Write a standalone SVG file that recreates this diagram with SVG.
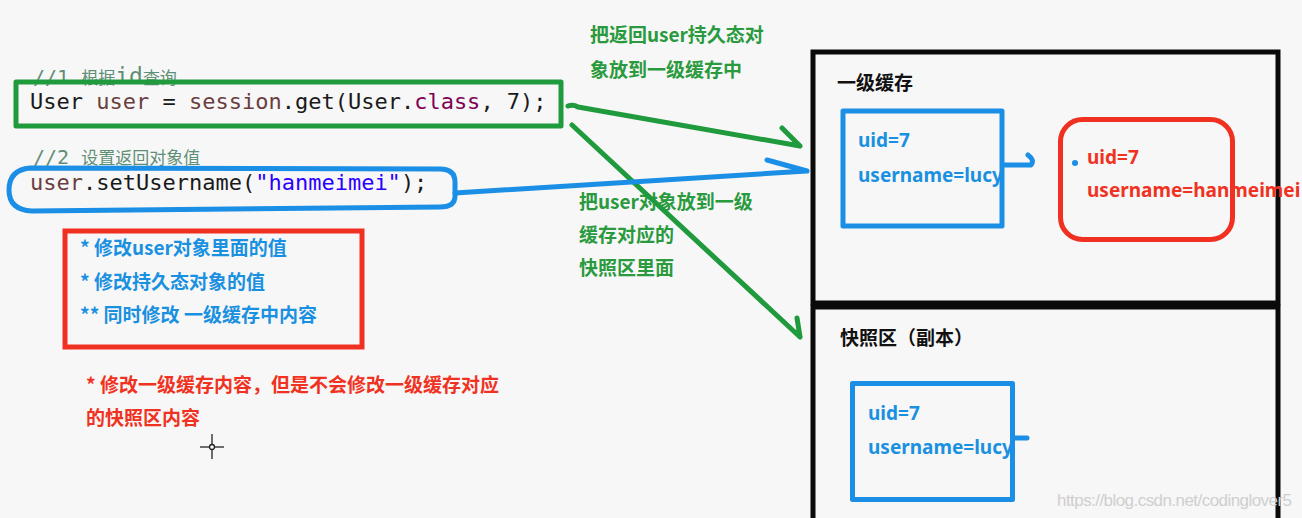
<svg xmlns="http://www.w3.org/2000/svg" width="1302" height="518" viewBox="0 0 1302 518">
<style>
.code{font-family:"DejaVu Sans Mono","Liberation Mono",monospace;font-size:22px;fill:#1a1a1a}
.var{fill:#6a3e3e}
.kw{fill:#7f0055}
.str{fill:#2a00ff}
.cmt{font-family:"DejaVu Sans Mono","Noto Sans CJK SC",monospace;fill:#5f8f76;font-size:20px}
.cmtc{font-family:"Noto Sans CJK SC",sans-serif;font-size:17px}
.cn{font-family:"Noto Sans CJK SC",sans-serif;font-weight:700;font-size:19px}
.lat{font-family:"Noto Sans","Noto Sans CJK SC",sans-serif;font-weight:700;font-size:19px}
.green{fill:#2a9a3e}
.blue{fill:#1a90e0}
.red{fill:#f03222}
.black{fill:#111}
.gline{fill:none;stroke:#1f9a3c;stroke-width:5;stroke-linecap:round;stroke-linejoin:round}
.bline{fill:none;stroke:#1a8fe5;stroke-width:5;stroke-linecap:round;stroke-linejoin:round}
.rline{fill:none;stroke:#f03020;stroke-width:5}
.kline{fill:none;stroke:#0a0a0a;stroke-width:5}
</style>
<rect width="1302" height="518" fill="#f7f7f7"/>

<g id="code1">
<text class="cmt" x="33" y="84">//1 <tspan class="cmtc">根据</tspan><tspan font-size="23">id</tspan><tspan class="cmtc">查询</tspan></text>
<rect x="16" y="82" width="545" height="44" class="gline" stroke-linecap="butt"/>
<text class="code" x="30" y="109" xml:space="preserve">User <tspan class="var">user</tspan> = <tspan class="var">session</tspan>.get(User.<tspan class="kw">class</tspan>, 7);</text>
</g>

<g id="code2">
<text class="cmt" x="33" y="164">//2 <tspan class="cmtc">设置返回对象值</tspan></text>
<path class="bline" d="M30,168 L440,169 Q455,169 455,182 L455,196 Q455,207 440,207 L32,211 Q9,210 9,190 Q9,170 30,168 Z"/>
<text class="code" x="30" y="190"><tspan class="var">user</tspan>.setUsername(<tspan class="str">"hanmeimei"</tspan>);</text>
</g>

<g id="notes">
<rect x="65" y="231" width="297" height="116" class="rline"/>
<text class="cn blue" x="80" y="255">* 修改user对象里面的值</text>
<text class="cn blue" x="80" y="289">* 修改持久态对象的值</text>
<text class="cn blue" x="80" y="322">** 同时修改 一级缓存中内容</text>
<text class="cn red" x="86" y="392">* 修改一级缓存内容，但是不会修改一级缓存对应</text>
<text class="cn red" x="86" y="425">的快照区内容</text>
</g>

<g id="cursor" stroke="#222" stroke-width="1.3" fill="none">
<line x1="200" y1="447" x2="224" y2="447"/>
<line x1="212" y1="434" x2="212" y2="459"/>
<circle cx="212" cy="447" r="2.5" fill="#f7f7f7"/>
</g>

<g id="labels">
<text class="cn green" x="590" y="42">把返回user持久态对</text>
<text class="cn green" x="590" y="77">象放到一级缓存中</text>
<text class="cn green" x="579" y="209">把user对象放到一级</text>
<text class="cn green" x="579" y="242">缓存对应的</text>
<text class="cn green" x="579" y="275">快照区里面</text>
</g>

<g id="connectors">
<path class="gline" d="M568,106 Q573,104 578,107 L800,146 M782,128 L800,146"/>
<path class="gline" d="M572,125 L800,337 M797,318 L800,337"/>
<path class="bline" d="M455,193 Q620,182 807,171 M767,160 L807,171"/>
<path class="bline" d="M1005,165 L1031,165 Q1035,160 1028,155"/>
<line class="bline" x1="1015" y1="438" x2="1027" y2="438" stroke-linecap="butt"/>
<circle cx="1075" cy="163" r="3" fill="#1a8fe5"/>
</g>

<g id="cache">
<rect x="813" y="52" width="465" height="251" class="kline"/>
<text class="cn black" x="837" y="90">一级缓存</text>
</g>

<g id="snapshot">
<rect x="813" y="307" width="465" height="230" class="kline"/>
<text class="cn black" x="840" y="345">快照区（副本）</text>
</g>

<g id="obj1">
<rect x="843" y="111" width="159" height="115" class="bline" stroke-linecap="butt"/>
<text class="lat blue" x="858" y="147">uid=7</text>
<text class="lat blue" x="858" y="182">username=lucy</text>
</g>

<g id="obj2">
<rect x="1060.5" y="119.5" width="172" height="120" rx="22" class="rline"/>
<text class="lat red" x="1087" y="164">uid=7</text>
<text class="lat red" x="1087" y="197">username=hanmeimei</text>
</g>

<g id="obj3">
<rect x="852.5" y="383.5" width="160" height="116" class="bline" stroke-linecap="butt"/>
<text class="lat blue" x="868" y="420">uid=7</text>
<text class="lat blue" x="868" y="454">username=lucy</text>
</g>

<text x="1057" y="506" font-family="Liberation Sans, Arial, sans-serif" font-size="17" fill="#cfcfcf" textLength="235">https://blog.csdn.net/codinglover5</text>
</svg>
